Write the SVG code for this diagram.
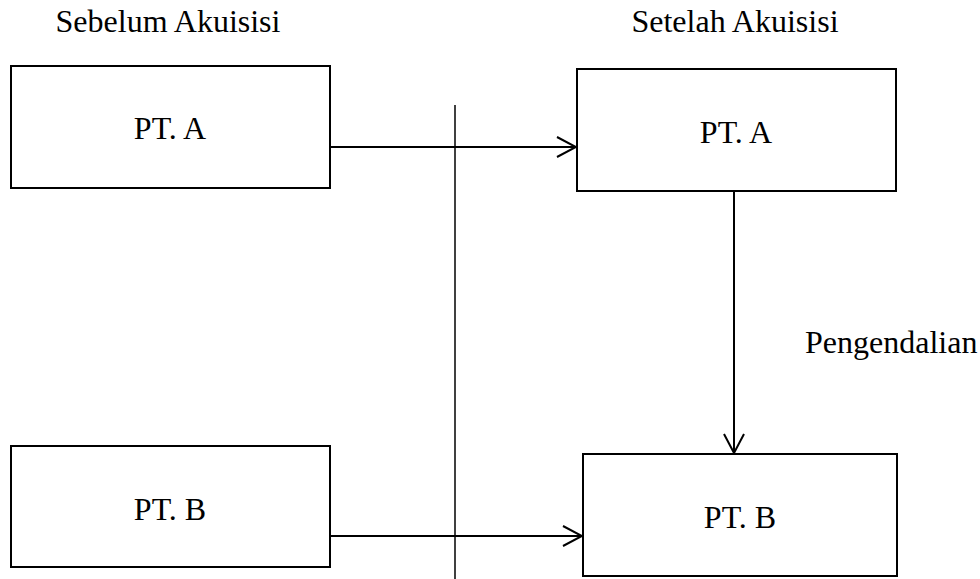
<svg xmlns="http://www.w3.org/2000/svg" width="980" height="579" viewBox="0 0 980 579">
<style>
.box{fill:#fff;stroke:#000;stroke-width:2}
.t{font-family:"Liberation Serif","Times New Roman",serif;font-size:32px;fill:#000}
.c{text-anchor:middle}
.ln{stroke:#000;stroke-width:2;fill:none}
</style>
<defs>
<marker id="ah" markerUnits="userSpaceOnUse" markerWidth="24" markerHeight="24" viewBox="-22 -12 24 24" refX="0" refY="0" orient="auto">
<path d="M-19,-10 L0,0 L-19,10" fill="none" stroke="#000" stroke-width="2"/>
</marker>
</defs>
<text class="t c" x="168" y="32">Sebelum Akuisisi</text>
<text class="t c" x="735" y="32">Setelah Akuisisi</text>
<g id="pta-before">
<rect class="box" x="11" y="66" width="319" height="122"/>
<text class="t c" x="170" y="139">PT. A</text>
</g>
<g id="ptb-before">
<rect class="box" x="11" y="446" width="319" height="121"/>
<text class="t c" x="170" y="520">PT. B</text>
</g>
<g id="pta-after">
<rect class="box" x="577" y="69" width="319" height="122"/>
<text class="t c" x="736" y="143">PT. A</text>
</g>
<g id="ptb-after">
<rect class="box" x="583" y="454" width="314" height="122"/>
<text class="t c" x="740" y="528">PT. B</text>
</g>
<g id="connectors">
<line x1="455" y1="105" x2="455" y2="579" stroke="#000" stroke-width="1.5"/>
<line class="ln" x1="330" y1="147" x2="576" y2="147" marker-end="url(#ah)"/>
<line class="ln" x1="330" y1="536" x2="582" y2="536" marker-end="url(#ah)"/>
<line class="ln" x1="734" y1="191" x2="734" y2="453" marker-end="url(#ah)"/>
<text class="t" x="805" y="353">Pengendalian</text>
</g>
</svg>
